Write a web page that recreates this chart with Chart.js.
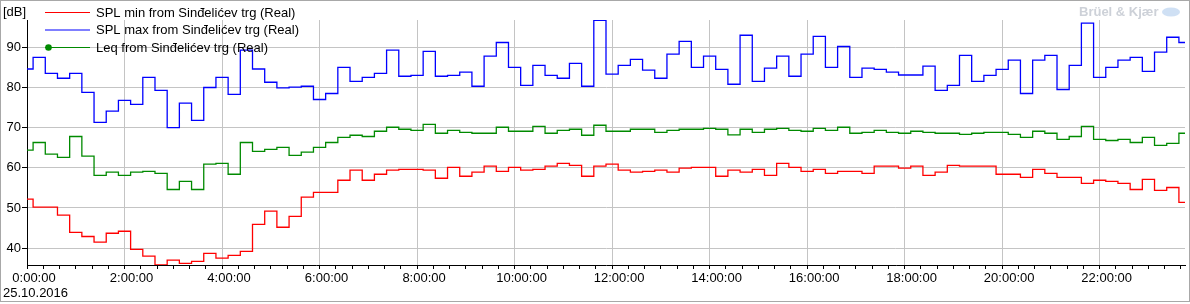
<!DOCTYPE html>
<html>
<head>
<meta charset="utf-8">
<script src="https://cdn.jsdelivr.net/npm/chart.js@4.4.1/dist/chart.umd.min.js"></script>
<style>
  html, body { margin: 0; padding: 0; background: #fff; }
  #wrap { width: 1190px; height: 304px; position: relative; }
</style>
</head>
<body>
<div id="wrap"><canvas id="noiseChart" width="1190" height="304"></canvas></div>
<script>
// 15 minute intervals, 25.10.2016, values in dB
const seriesLabels = [
  "SPL min from Sinđelićev trg (Real)",
  "SPL max from Sinđelićev trg (Real)",
  "Leq from Sinđelićev trg (Real)"
]
const seriesColors = ["#ff0000", "#0000ff", "#008a00"]

const splMin = [
  52.2, 50.2, 50.2, 48.2, 43.9, 42.9, 41.5, 43.7, 44.2, 39.7, 38.0, 35.8,
  37.0, 36.2, 36.7, 38.7, 37.5, 38.2, 39.2, 45.9, 49.2, 45.2, 47.9, 52.7,
  53.9, 53.9, 56.9, 59.4, 56.9, 58.4, 59.4, 59.6, 59.6, 59.4, 57.4, 60.1,
  57.9, 58.9, 60.4, 59.1, 60.1, 59.4, 59.6, 60.4, 61.1, 60.6, 57.9, 60.4,
  60.9, 59.4, 58.9, 59.1, 59.4, 58.9, 59.9, 60.1, 60.1, 57.9, 59.4, 58.9,
  59.6, 58.1, 61.1, 60.1, 59.1, 59.6, 58.6, 59.1, 59.1, 58.6, 60.4, 60.4,
  59.9, 60.4, 58.1, 58.9, 60.6, 60.4, 60.4, 60.4, 58.4, 58.4, 57.6, 59.6,
  58.6, 57.6, 57.6, 56.1, 56.9, 56.6, 56.1, 54.6, 57.1, 54.4, 55.1, 51.4
]
const splMax = [
  84.6, 87.5, 83.5, 82.3, 83.5, 78.8, 71.3, 74.1, 76.8, 75.8, 82.5, 79.3,
  70.0, 76.1, 71.8, 80.0, 82.5, 78.3, 89.3, 84.6, 81.3, 79.9, 80.1, 80.3,
  77.0, 78.5, 85.0, 81.5, 82.5, 83.5, 89.3, 82.8, 83.0, 89.0, 82.8, 83.0,
  83.8, 80.3, 87.8, 91.2, 85.0, 80.5, 85.5, 83.0, 82.3, 86.0, 80.3, 96.7,
  83.3, 85.5, 87.0, 84.3, 82.3, 88.3, 91.5, 85.0, 87.8, 84.5, 80.8, 93.0,
  81.5, 84.8, 87.8, 82.8, 88.3, 92.7, 85.0, 90.2, 82.5, 84.8, 84.5, 83.8,
  83.1, 83.1, 85.3, 79.3, 80.5, 88.0, 81.5, 83.0, 84.5, 86.8, 78.5, 86.8,
  88.0, 79.5, 85.5, 96.0, 82.5, 85.0, 86.8, 87.5, 84.0, 88.8, 92.5, 91.2
]
const leq = [
  64.4, 66.3, 63.4, 62.6, 67.8, 62.9, 58.1, 58.9, 58.1, 58.9, 59.1, 58.6,
  54.6, 56.6, 54.6, 60.9, 61.1, 58.4, 66.3, 64.1, 64.6, 65.1, 63.1, 63.9,
  65.1, 66.3, 67.6, 68.1, 67.8, 69.1, 70.1, 69.6, 69.3, 70.8, 68.6, 69.3,
  68.8, 68.6, 68.6, 70.1, 69.1, 69.1, 70.3, 68.6, 69.3, 69.6, 68.1, 70.6,
  69.1, 69.1, 69.6, 69.6, 68.8, 69.3, 69.6, 69.6, 69.8, 69.6, 68.2, 69.6,
  68.8, 69.6, 69.8, 69.3, 69.1, 69.8, 69.3, 70.1, 68.6, 68.8, 69.3, 68.8,
  68.6, 69.1, 68.8, 68.6, 68.6, 68.3, 68.6, 68.8, 68.8, 68.3, 67.6, 69.1,
  68.6, 67.1, 67.8, 70.3, 67.1, 66.8, 67.1, 66.3, 67.6, 65.6, 66.1, 68.6
]

// hours since midnight, one sample every 15 minutes
const times = splMax.map((_, i) => i * 0.25)

const yTicks = [40, 50, 60, 70, 80, 90]
const xLabelHours = [0, 2, 4, 6, 8, 10, 12, 14, 16, 18, 20, 22]
const xMinorStep = 1 / 3
const xMax = 23.75
const yMin = 35.8
const yMax = 96.8
const dateLabel = "25.10.2016"
const unitLabel = "[dB]"

const FONT = "'Liberation Sans', Arial, sans-serif"
const GRID = "#c4c4c4"

function isMajor(v) {
  return xLabelHours.some(h => Math.abs(h - v) < 1e-6)
}

const decorPlugin = {
  id: "decor",
  afterDatasetsDraw(chart) {
    const ctx = chart.ctx
    ctx.save()

    // legend on top of the plot
    const rows = [12.5, 30, 47.5]
    chart.data.datasets.forEach((ds, i) => {
      const y = rows[i]
      ctx.strokeStyle = ds.borderColor
      ctx.lineWidth = 1.2
      ctx.beginPath()
      ctx.moveTo(45, y)
      ctx.lineTo(90, y)
      ctx.stroke()
      if (i === 2) {
        ctx.fillStyle = ds.borderColor
        ctx.beginPath()
        ctx.arc(48.5, y, 3.3, 0, Math.PI * 2)
        ctx.fill()
      }
      ctx.fillStyle = "#000"
      ctx.font = "13px " + FONT
      ctx.textBaseline = "middle"
      ctx.textAlign = "left"
      ctx.fillText(ds.label, 96, y + 0.5)
    })

    ctx.fillStyle = "#000"
    ctx.font = "13px " + FONT
    ctx.textBaseline = "middle"
    ctx.fillText(unitLabel, 3, 12.5)
    ctx.fillText(dateLabel, 3, 293)

    // watermark
    ctx.fillStyle = "#cdd1d8"
    ctx.font = "bold 13px " + FONT
    ctx.fillText("Brüel & Kjær", 1079, 12)
    ctx.fillStyle = "#cfe0f4"
    ctx.beginPath()
    ctx.ellipse(1171, 12, 9, 4.5, 0, 0, Math.PI * 2)
    ctx.fill()

    // frame
    ctx.strokeStyle = "#a8a8a8"
    ctx.lineWidth = 1
    ctx.strokeRect(0.5, 0.5, 1189, 301)
    ctx.restore()
  }
}

const ctx = document.getElementById("noiseChart").getContext("2d")

new Chart(ctx, {
  type: "line",
  data: {
    labels: times,
    datasets: [
      { label: seriesLabels[0], data: splMin, borderColor: seriesColors[0] },
      { label: seriesLabels[1], data: splMax, borderColor: seriesColors[1] },
      { label: seriesLabels[2], data: leq, borderColor: seriesColors[2] }
    ].map(ds => Object.assign(ds, {
      stepped: "middle",
      borderWidth: 1.3,
      pointRadius: 0,
      fill: false
    }))
  },
  options: {
    responsive: false,
    animation: false,
    devicePixelRatio: 1,
    layout: { padding: { top: 20, right: 5, left: 0, bottom: 3 } },
    plugins: {
      legend: { display: false },
      tooltip: { enabled: false }
    },
    scales: {
      x: {
        type: "linear",
        min: 0,
        max: xMax,
        afterBuildTicks: scale => {
          const ticks = []
          for (let v = 0; v <= xMax + 1e-9; v += xMinorStep) ticks.push({ value: v })
          scale.ticks = ticks
        },
        afterFit: scale => { scale.height = 36 },
        grid: {
          color: c => (c.tick && isMajor(c.tick.value) ? GRID : "rgba(0,0,0,0)"),
          tickColor: "#000",
          tickLength: 4,
          lineWidth: 1
        },
        border: { display: true, color: "#000", width: 1 },
        ticks: {
          autoSkip: false,
          maxRotation: 0,
          labelOffset: 7,
          padding: 2,
          color: "#000",
          font: { family: FONT, size: 13 },
          callback: v => (isMajor(v) ? Math.round(v) + ":00:00" : "")
        }
      },
      y: {
        min: yMin,
        max: yMax,
        afterBuildTicks: scale => {
          scale.ticks = yTicks.map(v => ({ value: v }))
        },
        afterFit: scale => { scale.width = 27 },
        grid: {
          color: GRID,
          tickColor: "#000",
          tickLength: 5,
          lineWidth: 1
        },
        border: { display: true, color: "#000", width: 1 },
        ticks: {
          padding: 1,
          color: "#000",
          font: { family: FONT, size: 13 }
        }
      }
    }
  },
  plugins: [decorPlugin]
})
</script>
</body>
</html>
